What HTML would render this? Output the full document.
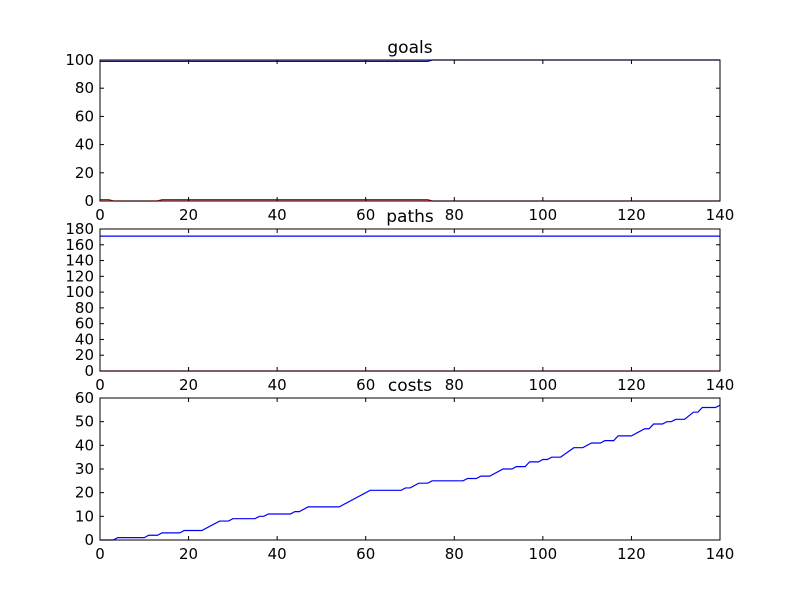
<!DOCTYPE html>
<html><head><meta charset="utf-8"><style>
body{margin:0;background:#fff}
svg{display:block;font-family:"DejaVu Sans","Liberation Sans",sans-serif}
</style></head><body>
<svg id="c" width="800" height="600"></svg>
<script>
const xTicks=[0,20,40,60,80,100,120,140];
const goalsTicks=[0,20,40,60,80,100];
const pathsTicks=[0,20,40,60,80,100,120,140,160,180];
const costsTicks=[0,10,20,30,40,50,60];
const goalsBlueX=[0,74,75,140];
const goalsBlueY=[99,99,100,100];
const goalsRedX=[0,2,3,13,14,74,75,140];
const goalsRedY=[1,1,0,0,1,1,0,0];
const pathsBlueX=[0,140];
const pathsBlueY=[171,171];
const pathsRedX=[0,140];
const pathsRedY=[0,0];
const costX=[0,3,4,10,11,13,14,18,19,23,27,29,30,35,36,37,38,43,44,45,47,54,61,68,69,70,72,74,75,82,83,85,86,88,91,93,94,96,97,99,100,101,102,104,107,109,111,113,114,116,117,120,123,124,125,127,128,129,130,132,134,135,136,139,140];
const costY=[0,0,1,1,2,2,3,3,4,4,8,8,9,9,10,10,11,11,12,12,14,14,21,21,22,22,24,24,25,25,26,26,27,27,30,30,31,31,33,33,34,34,35,35,39,39,41,41,42,42,44,44,47,47,49,49,50,50,51,51,54,54,56,56,57];
const svg=document.getElementById('c');const NS='http://www.w3.org/2000/svg';
function mk(t,a,p){const e=document.createElementNS(NS,t);for(const k in a)e.setAttribute(k,a[k]);(p||svg).appendChild(e);return e;}
const L=100,R=720;
function panel(name,title,top,bot,ymax,yt,series){
  const g=mk('g',{});
  
  
  const sx=v=>L+(R-L)*v/140, sy=v=>bot-(bot-top)*v/ymax;
  series.forEach(s=>{
    const pts=s.x.map((v,i)=>sx(v).toFixed(2)+','+sy(s.y[i]).toFixed(2)).join(' ');
    const pl=mk('polyline',{points:pts,fill:'none',stroke:s.c,'stroke-width':1.2},g);
    
    
  });
  const fr=mk('rect',{x:L,y:top,width:R-L,height:bot-top,fill:'none',stroke:'#000','stroke-width':1},g);
  
  
  xTicks.forEach(v=>{const x=sx(v);
    mk('line',{x1:x,x2:x,y1:bot,y2:bot-4,stroke:'#000'},g);
    mk('line',{x1:x,x2:x,y1:top,y2:top+4,stroke:'#000'},g);
    const t=mk('text',{x:x,y:bot+19,'text-anchor':'middle','font-size':15},g);t.textContent=v;
    
    
  });
  yt.forEach(v=>{const y=sy(v);
    mk('line',{x1:L,x2:L+4,y1:y,y2:y,stroke:'#000'},g);
    mk('line',{x1:R,x2:R-4,y1:y,y2:y,stroke:'#000'},g);
    const t=mk('text',{x:L-6,y:y+5,'text-anchor':'end','font-size':15},g);t.textContent=v;
    
    
  });
  const tt=mk('text',{x:410,y:top-7,'text-anchor':'middle','font-size':17},g);tt.textContent=title;
  
  
}
panel('goals','goals',60,201,100,goalsTicks,[{n:'blue',c:'#0000ff',x:goalsBlueX,y:goalsBlueY},{n:'red',c:'#ff0000',x:goalsRedX,y:goalsRedY}]);
panel('paths','paths',229,371,180,pathsTicks,[{n:'blue',c:'#0000ff',x:pathsBlueX,y:pathsBlueY},{n:'red',c:'#ff0000',x:pathsRedX,y:pathsRedY}]);
panel('costs','costs',398,540,60,costsTicks,[{n:'blue',c:'#0000ff',x:costX,y:costY}]);
</script>
</body></html>
